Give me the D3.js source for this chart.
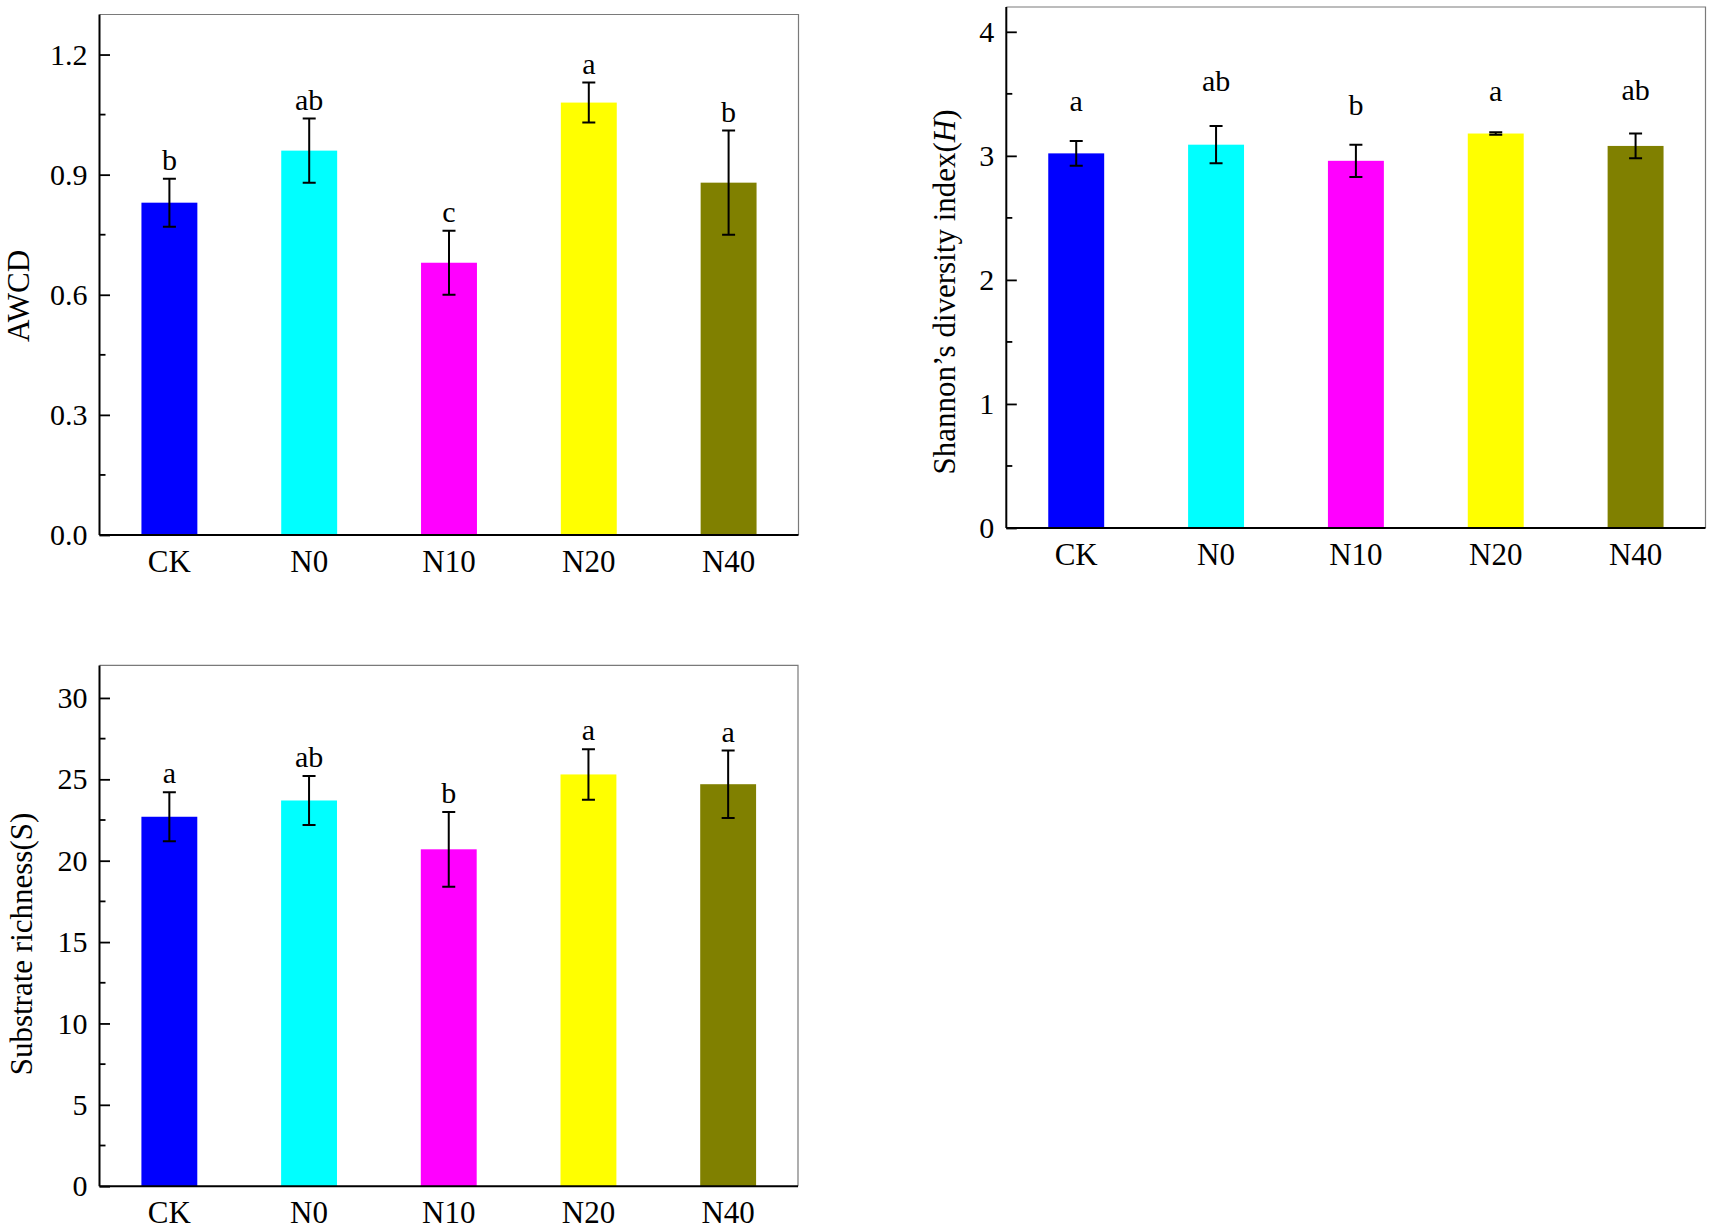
<!DOCTYPE html>
<html>
<head>
<meta charset="utf-8">
<script src="https://cdn.jsdelivr.net/npm/d3@7"></script>
<style>
  html, body { margin: 0; padding: 0; background: #fff; }
  svg { display: block; }
  text { font-family: "Liberation Serif", "Times New Roman", serif; fill: #000; }
</style>
</head>
<body>
<svg id="chart" width="1713" height="1229"></svg>
<script>
// ---------- data ----------
const categories = ["CK", "N0", "N10", "N20", "N40"];
const barColors  = ["#0000FF", "#00FFFF", "#FF00FF", "#FFFF00", "#808000"];

const awcdValues   = [0.83, 0.96, 0.68, 1.08, 0.88];
const awcdErrors   = [0.06, 0.08, 0.08, 0.05, 0.13];
const awcdLetters  = ["b", "ab", "c", "a", "b"];
const awcdTicks    = [0, 0.3, 0.6, 0.9, 1.2];

const shannonValues  = [3.02, 3.09, 2.96, 3.18, 3.08];
const shannonErrors  = [0.10, 0.15, 0.13, 0.01, 0.10];
const shannonLetters = ["a", "ab", "b", "a", "ab"];
const shannonLetterY = [3.36, 3.52, 3.33, 3.44, 3.45];
const shannonTicks   = [0, 1, 2, 3, 4];

const richValues   = [22.7, 23.7, 20.7, 25.3, 24.7];
const richErrors   = [1.5, 1.5, 2.3, 1.55, 2.07];
const richLetters  = ["a", "ab", "b", "a", "a"];
const richTicks    = [0, 5, 10, 15, 20, 25, 30];

// ---------- panels ----------
const panels = [
  { left: 99.5, right: 798.5, top: 14.5, bottom: 535, max: 1.3,
    values: awcdValues, errors: awcdErrors, letters: awcdLetters, letterY: null,
    ticks: awcdTicks, minorStep: 0.15, fmt: d3.format(".1f"),
    title: [{t: "AWCD"}], titleX: 28.5, titleY: 296 },
  { left: 1006.3, right: 1705.5, top: 7, bottom: 528, max: 4.2,
    values: shannonValues, errors: shannonErrors, letters: shannonLetters, letterY: shannonLetterY,
    ticks: shannonTicks, minorStep: 0.5, fmt: d3.format("d"),
    title: [{t: "Shannon\u2019s diversity index("}, {t: "H", italic: true}, {t: ")"}], titleX: 955, titleY: 292 },
  { left: 99.5, right: 798, top: 665.4, bottom: 1186.2, max: 32,
    values: richValues, errors: richErrors, letters: richLetters, letterY: null,
    ticks: richTicks, minorStep: 2.5, fmt: d3.format("d"),
    title: [{t: "Substrate richness(S)"}], titleX: 32, titleY: 944 }
];

const svg = d3.select("#chart");

panels.forEach(p => {
  const g = svg.append("g");
  const x = d3.scaleBand().domain(categories).range([p.left, p.right]).paddingInner(0.6).paddingOuter(0.3);
  const y = d3.scaleLinear().domain([0, p.max]).range([p.bottom, p.top]);

  // frame top & right (thin gray)
  g.append("path")
    .attr("d", `M${p.left},${p.top}H${p.right}V${p.bottom}`)
    .attr("fill", "none").attr("stroke", "#7a7a7a").attr("stroke-width", 1.2);

  // bars
  g.selectAll("rect.bar").data(p.values).join("rect")
    .attr("class", "bar")
    .attr("x", (d, i) => x(categories[i]))
    .attr("width", x.bandwidth())
    .attr("y", d => y(d))
    .attr("height", d => y(0) - y(d))
    .attr("fill", (d, i) => barColors[i]);

  // error bars
  const cap = 6.5;
  const eg = g.append("g").attr("stroke", "#000").attr("stroke-width", 2).attr("fill", "none");
  p.values.forEach((v, i) => {
    const cx = x(categories[i]) + x.bandwidth() / 2;
    const hi = y(v + p.errors[i]), lo = y(v - p.errors[i]);
    eg.append("path").attr("d",
      `M${cx},${hi}V${lo}M${cx - cap},${hi}H${cx + cap}M${cx - cap},${lo}H${cx + cap}`);
  });

  // significance letters
  g.selectAll("text.letter").data(p.letters).join("text")
    .attr("class", "letter")
    .attr("x", (d, i) => x(categories[i]) + x.bandwidth() / 2)
    .attr("y", (d, i) => p.letterY ? y(p.letterY[i]) : y(p.values[i] + p.errors[i]) - 9)
    .attr("text-anchor", "middle")
    .attr("font-size", 30)
    .text(d => d);

  // minor ticks
  const minors = d3.range(p.minorStep, p.max, p.minorStep * 2).filter(v => v <= p.max);
  g.append("g").selectAll("line").data(minors).join("line")
    .attr("x1", p.left).attr("x2", p.left + 6)
    .attr("y1", d => y(d)).attr("y2", d => y(d))
    .attr("stroke", "#000").attr("stroke-width", 1.8);

  // y axis
  const ya = g.append("g").attr("transform", `translate(${p.left},0)`)
    .call(d3.axisLeft(y).tickValues(p.ticks).tickFormat(p.fmt).tickSizeInner(-10.5).tickSizeOuter(0).tickPadding(12));
  ya.select(".domain").attr("stroke", "#000").attr("stroke-width", 2)
    .attr("d", `M0,${p.bottom}V${p.top}`);
  ya.selectAll(".tick line").attr("stroke", "#000").attr("stroke-width", 1.8);
  ya.selectAll(".tick text").attr("font-size", 30)
    .attr("font-family", "Liberation Serif, Times New Roman, serif").attr("fill", "#000");

  // x axis
  const xa = g.append("g").attr("transform", `translate(0,${p.bottom})`)
    .call(d3.axisBottom(x).tickSize(0).tickPadding(0));
  xa.select(".domain").attr("stroke", "#000").attr("stroke-width", 2)
    .attr("d", `M${p.left},0H${p.right}`);
  xa.selectAll(".tick text").attr("font-size", 31).attr("dy", null).attr("y", 37)
    .attr("font-family", "Liberation Serif, Times New Roman, serif").attr("fill", "#000");

  // y title
  const tt = g.append("text")
    .attr("transform", `translate(${p.titleX},${p.titleY}) rotate(-90)`)
    .attr("text-anchor", "middle")
    .attr("font-size", 31);
  p.title.forEach(s => {
    const ts = tt.append("tspan").text(s.t);
    if (s.italic) ts.attr("font-style", "italic");
  });
});
</script>
</body>
</html>
